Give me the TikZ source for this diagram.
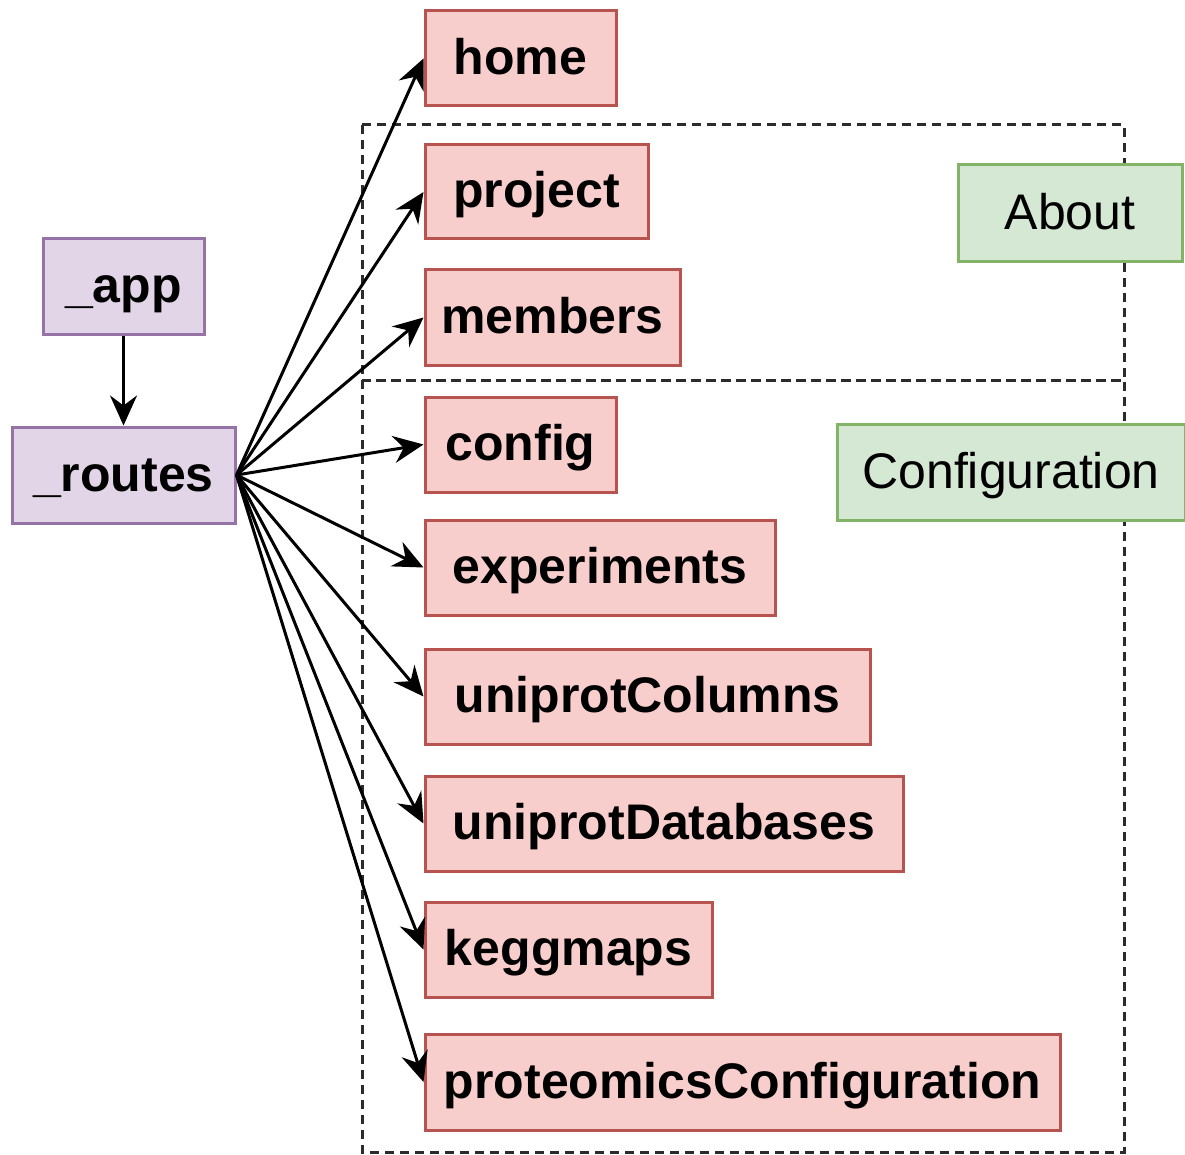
\documentclass[tikz,border=0pt]{standalone}
\usepackage{fontspec}
\setmainfont{Liberation Sans}
\usetikzlibrary{arrows.meta}
\definecolor{pagefill}{HTML}{F8CECC}
\definecolor{pageline}{HTML}{B85450}
\definecolor{corefill}{HTML}{E1D5E7}
\definecolor{coreline}{HTML}{9673A6}
\definecolor{groupfill}{HTML}{D5E8D4}
\definecolor{groupline}{HTML}{82B366}
\definecolor{frameline}{HTML}{2B2B2B}
\tikzset{
  box/.style={rectangle, inner sep=0pt, line width=3pt, text height=40pt, text depth=8pt,
    font=\fontsize{50}{60}\selectfont},
  page/.style={box, draw=pageline, fill=pagefill, font=\fontsize{50}{60}\selectfont\bfseries},
  core/.style={box, draw=coreline, fill=corefill, font=\fontsize{50}{60}\selectfont\bfseries},
  grouplabel/.style={box, draw=groupline, fill=groupfill},
  groupframe/.style={draw=frameline, line width=3pt, dash pattern=on 9pt off 6pt},
  link/.style={line width=3pt, -{Stealth[length=30pt, width=27pt, inset=10pt]}}
}
\begin{document}
\begin{tikzpicture}[x=1pt, y=-1pt]
\useasboundingbox (0,0) rectangle (1185,1155);

% grouping frames
\draw[groupframe] (362,125) rectangle (1124,380);
\draw[groupframe] (362,380) rectangle (1124,1152);

% group labels
\node[grouplabel, minimum width=224pt, minimum height=97pt] (about) at (1070,213.5) {About};
\node[grouplabel, minimum width=348pt, minimum height=96pt] (configuration) at (1011,472) {Configuration};

% entry points
\node[core, minimum width=161pt, minimum height=95pt] (app) at (123.5,286.5) {\_app};
\node[core, minimum width=223pt, minimum height=96pt] (routes) at (123.5,475) {\_routes};

% pages
\node[page, minimum width=191pt, minimum height=95pt] (home) at (520.5,58.5) {home};
\node[page, minimum width=223pt, minimum height=94pt] (project) at (536.5,192) {project};
\node[page, minimum width=255pt, minimum height=95pt] (members) at (552.5,317.5) {members};
\node[page, minimum width=191pt, minimum height=95pt] (config) at (520.5,444.5) {config};
\node[page, minimum width=350pt, minimum height=95pt] (experiments) at (600,567.5) {experiments};
\node[page, minimum width=445pt, minimum height=95pt] (uniprotColumns) at (647.5,696.5) {uniprotColumns};
\node[page, minimum width=478pt, minimum height=95pt] (uniprotDatabases) at (664,823.5) {uniprotDatabases};
\node[page, minimum width=287pt, minimum height=95pt] (keggmaps) at (568.5,949.5) {keggmaps};
\node[page, minimum width=635pt, minimum height=96pt] (proteomicsConfiguration) at (742.5,1082) {proteomicsConfiguration};

% connectors
\draw[link] (app) -- (routes);
\foreach \target in {home, project, members, config, experiments, uniprotColumns, uniprotDatabases, keggmaps, proteomicsConfiguration}
  \draw[link] (routes.east) -- (\target.west);
\end{tikzpicture}
\end{document}
